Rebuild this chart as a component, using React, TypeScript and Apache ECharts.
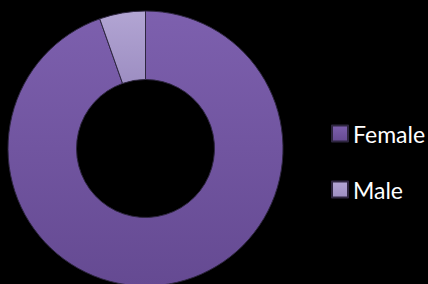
import React, { useEffect, useRef } from "react";
import * as echarts from "echarts";

const categories = ["Female", "Male"];
const values = [94.6, 5.4];

const topColors = ["#7d60ae", "#b2a5d3"];
const bottomColors = ["#654a92", "#9d8ec2"];

export default function App() {
  const ref = useRef<HTMLDivElement>(null);
  useEffect(() => {
    if (!ref.current) return;
    const chart = echarts.init(ref.current, null, { renderer: "svg" });
    chart.setOption({
      animation: false,
      backgroundColor: "#000000",
      legend: {
        orient: "vertical",
        left: 326,
        top: 117,
        itemWidth: 16,
        itemHeight: 16,
        itemGap: 33,
        icon: "rect",
        textStyle: {
          color: "#ffffff",
          fontFamily: "Lato",
          fontSize: 23,
          lineHeight: 16,
          padding: [0, 0, 0, 0],
        },
        data: categories,
      },
      series: [
        {
          type: "pie",
          center: [145.5, 148.5],
          radius: [69, 137.5],
          startAngle: 90,
          clockwise: true,
          label: { show: false },
          labelLine: { show: false },
          emphasis: { disabled: true },
          data: categories.map((name, i) => ({
            name,
            value: values[i],
            itemStyle: {
              color: {
                type: "linear",
                x: 0,
                y: 0,
                x2: 0,
                y2: 1,
                colorStops: [
                  { offset: 0, color: topColors[i] },
                  { offset: 1, color: bottomColors[i] },
                ],
              },
              borderColor: "#2e2640",
              borderWidth: 1,
            },
          })),
        },
      ],
    });
    return () => chart.dispose();
  }, []);
  return (
    <div
      ref={ref}
      style={{ position: "fixed", left: 0, top: 0, width: 428, height: 284 }}
    />
  );
}
